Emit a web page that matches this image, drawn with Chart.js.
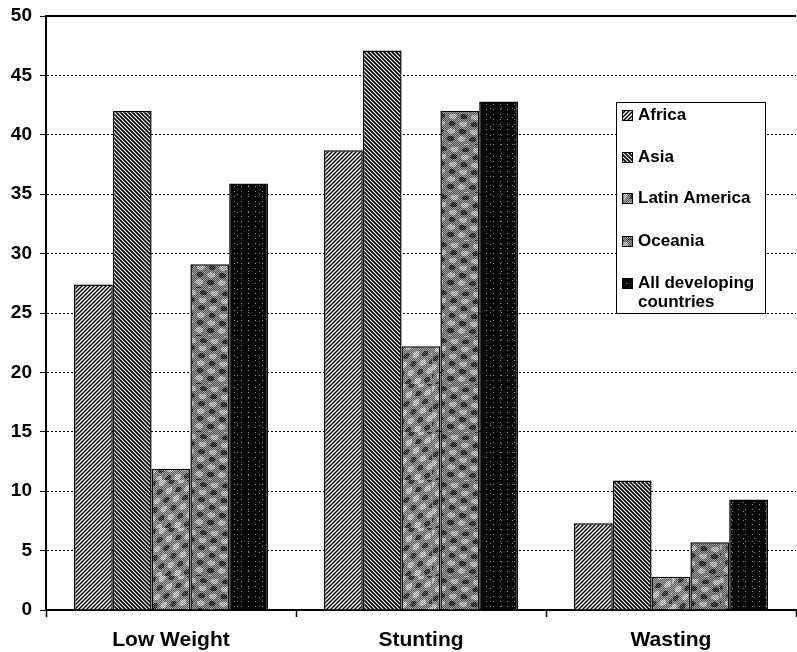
<!DOCTYPE html>
<html>
<head>
<meta charset="utf-8">
<script src="https://cdn.jsdelivr.net/npm/chart.js@4/dist/chart.umd.min.js"></script>
<style>
  html, body { margin: 0; padding: 0; background: #fff; }
  #wrap { width: 797px; height: 652px; }
</style>
</head>
<body>
<div id="wrap"><canvas id="myChart" width="797" height="652"></canvas></div>
<script>
const categories = ['Low Weight', 'Stunting', 'Wasting'];
const seriesNames = ['Africa', 'Asia', 'Latin America', 'Oceania', 'All developing countries'];
const africa = [27.4, 38.7, 7.3];
const asia = [42.0, 47.1, 10.9];
const latinAmerica = [11.9, 22.2, 2.8];
const oceania = [29.1, 42.0, 5.7];
const allDeveloping = [35.9, 42.8, 9.3];
const yMin = 0, yMax = 50, yStep = 5;

// --- fill patterns (scanned-look hatching) ---
function hatch(dir, lw) {
  const s = 4;
  const c = document.createElement('canvas');
  c.width = s; c.height = s;
  const g = c.getContext('2d');
  g.fillStyle = '#fff';
  g.fillRect(0, 0, s, s);
  g.strokeStyle = '#000';
  g.lineWidth = lw;
  g.beginPath();
  if (dir === '/') {
    g.moveTo(-1, s + 1); g.lineTo(s + 1, -1);
    g.moveTo(-1, 1); g.lineTo(1, -1);
    g.moveTo(s - 1, s + 1); g.lineTo(s + 1, s - 1);
  } else {
    g.moveTo(-1, -1); g.lineTo(s + 1, s + 1);
    g.moveTo(s - 1, -1); g.lineTo(s + 1, 1);
    g.moveTo(-1, s - 1); g.lineTo(1, s + 1);
  }
  g.stroke();
  return g.createPattern(c, 'repeat');
}

function texture(fn, s) {
  const c = document.createElement('canvas');
  c.width = s; c.height = s;
  const g = c.getContext('2d');
  const img = g.createImageData(s, s);
  for (let y = 0; y < s; y++) {
    for (let x = 0; x < s; x++) {
      const v = fn(x, y);
      const i = (y * s + x) * 4;
      img.data[i] = img.data[i + 1] = img.data[i + 2] = v;
      img.data[i + 3] = 255;
    }
  }
  g.putImageData(img, 0, 0);
  return g.createPattern(c, 'repeat');
}

const ctx = document.getElementById('myChart').getContext('2d');

// mottled grey: dither plus smooth blobs
function mottle(x, y, a, b, base) {
  let v = (x + y) % 2 ? base - 35 : base + 35;
  const w = Math.sin(x * a + y * 0.45) + Math.sin(y * b - x * 0.3);
  if (w > 0.9) v += 55;
  else if (w < -1.1) v -= 70;
  return Math.max(0, Math.min(235, v));
}

const fills = [
  hatch('/', 1.4),
  hatch('\\', 1.7),
  texture((x, y) => mottle(x, y, 0.39, 0.26, 130), 48),
  texture((x, y) => mottle(x, y, 0.26, 0.39, 120), 48),
  texture((x, y) => ((x % 7 === 3 && y % 5 === 2) || (x % 11 === 6 && y % 9 === 4)) ? 140 : 8, 77)
];

const seriesData = [africa, asia, latinAmerica, oceania, allDeveloping];

const legendBox = {
  id: 'legendBox',
  afterDraw(chart) {
    const c = chart.ctx;
    const a = chart.chartArea;
    c.save();
    // solid top frame line at 50
    c.strokeStyle = '#000';
    c.lineWidth = 2;
    c.beginPath();
    c.moveTo(a.left, a.top);
    c.lineTo(a.right, a.top);
    c.stroke();

    const bx = 616.5, by = 102.5, bw = 149, bh = 211;
    c.fillStyle = '#fff';
    c.fillRect(bx, by, bw, bh);
    c.lineWidth = 1;
    c.strokeRect(bx, by, bw, bh);

    const rows = [115, 157, 198, 241, 283];
    c.font = 'bold 17px "Liberation Sans", Arial, sans-serif';
    c.textBaseline = 'middle';
    c.textAlign = 'left';
    seriesNames.forEach((name, i) => {
      const y = rows[i];
      c.fillStyle = fills[i];
      c.fillRect(622, y - 5, 11, 11);
      c.strokeStyle = '#000';
      c.lineWidth = 1;
      c.strokeRect(622.5, y - 4.5, 10, 10);
      c.fillStyle = '#000';
      if (i === 4) {
        c.fillText('All developing', 638, y);
        c.fillText('countries', 638, y + 19);
      } else {
        c.fillText(name, 638, y);
      }
    });
    c.restore();
  }
};

new Chart(ctx, {
  type: 'bar',
  data: {
    labels: categories,
    datasets: seriesNames.map((name, i) => ({
      label: name,
      data: seriesData[i],
      backgroundColor: fills[i],
      borderColor: '#000',
      borderWidth: 1.5,
      categoryPercentage: 0.776,
      barPercentage: 1
    }))
  },
  options: {
    responsive: false,
    animation: false,
    devicePixelRatio: 1,
    layout: { padding: { top: 16, right: 1, left: 0, bottom: 0 } },
    plugins: {
      legend: { display: false },
      tooltip: { enabled: false }
    },
    scales: {
      x: {
        afterFit: (s) => { s.height = 42; },
        grid: {
          drawOnChartArea: false,
          drawTicks: true,
          tickLength: 7,
          tickColor: '#000',
          tickWidth: 1.5,
          offset: true
        },
        border: { display: true, color: '#000', width: 2 },
        ticks: {
          color: '#000',
          padding: 11,
          font: { family: '"Liberation Sans", Arial, sans-serif', size: 21, weight: 'bold' }
        }
      },
      y: {
        min: yMin,
        max: yMax,
        afterFit: (s) => { s.width = 46; s.paddingTop = 0; s.paddingBottom = 0; },
        grid: {
          color: '#000',
          lineWidth: 1,
          drawTicks: true,
          tickLength: 6,
          tickColor: '#000',
          tickWidth: 1
        },
        border: { display: true, color: '#000', width: 2, dash: [2, 2] },
        ticks: {
          stepSize: yStep,
          color: '#000',
          padding: 8,
          font: { family: '"Liberation Sans", Arial, sans-serif', size: 19, weight: 'bold' }
        }
      }
    }
  },
  plugins: [legendBox]
});
</script>
</body>
</html>
